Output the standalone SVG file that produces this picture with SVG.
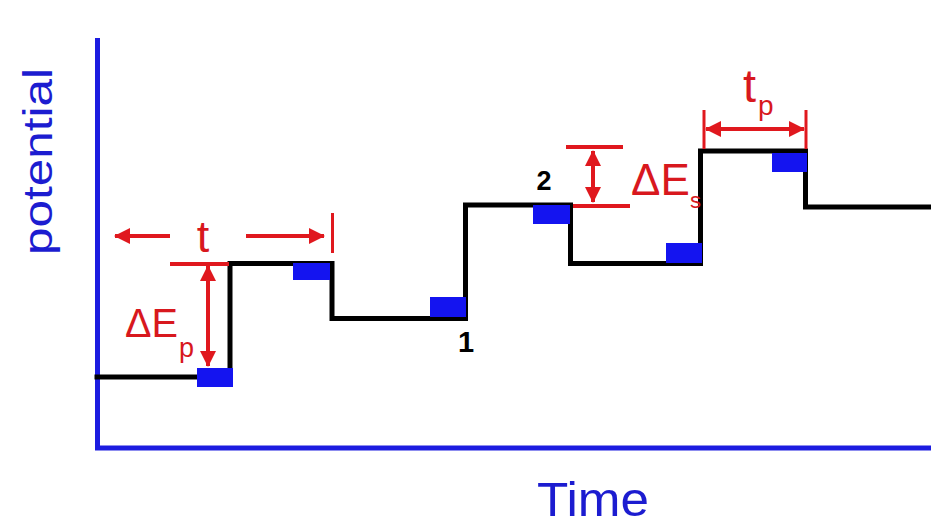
<svg xmlns="http://www.w3.org/2000/svg" width="931" height="528" viewBox="0 0 931 528">
<style>
.axis{stroke:#1c1ce0;stroke-width:5;fill:none}
.step{stroke:#000;stroke-width:5;fill:none;stroke-linejoin:miter;stroke-linecap:square}
.pulse{fill:#1414f0}
.red{stroke:#e0181e;stroke-width:4;fill:none}
.bar{stroke:#e0181e;stroke-width:3;fill:none}
.rtxt{fill:#d8181e;font-family:"Liberation Sans",Arial,sans-serif}
.btxt{fill:#1c1cd0;font-family:"Liberation Sans",Arial,sans-serif}
.num{fill:#000;font-family:"Liberation Sans",Arial,sans-serif;font-weight:bold;text-anchor:middle}
</style>
<defs>
<marker id="ah" viewBox="0 0 16 16" refX="15" refY="8" markerWidth="16" markerHeight="16" markerUnits="userSpaceOnUse" orient="auto-start-reverse">
<path d="M0,0 L16,8 L0,16 z" fill="#e0181e"/>
</marker>
</defs>
<rect width="931" height="528" fill="#fff"/>
<g id="axes">
<path class="axis" d="M97.5,38 V448 H931"/>
</g>
<g id="axis-labels">
<text class="btxt" font-size="41" transform="translate(52,255) rotate(-90)" textLength="187" lengthAdjust="spacingAndGlyphs">potential</text>
<text class="btxt" x="537" y="516" font-size="49" textLength="112" lengthAdjust="spacingAndGlyphs">Time</text>
</g>
<g id="waveform">
<path class="step" d="M97,377 H230 V263.5 H332 V318.5 H465.5 V205 H570.5 V263.5 H700.5 V151 H805.5 V207 H933"/>
</g>
<g id="pulses">
<rect class="pulse" x="197" y="368" width="36" height="19"/>
<rect class="pulse" x="293" y="263" width="37" height="17"/>
<rect class="pulse" x="430" y="297" width="36" height="20"/>
<rect class="pulse" x="533" y="205" width="37" height="19"/>
<rect class="pulse" x="666" y="243" width="36" height="20"/>
<rect class="pulse" x="772" y="153" width="35" height="19"/>
</g>
<g id="connectors">
<line class="red" x1="170" y1="236" x2="115" y2="236" marker-end="url(#ah)"/>
<line class="red" x1="246" y1="236" x2="324" y2="236" marker-end="url(#ah)"/>
<line class="bar" x1="332.5" y1="213" x2="332.5" y2="253"/>
<line class="red" x1="170" y1="264" x2="229" y2="264"/>
<line class="red" x1="208" y1="266" x2="208" y2="366" marker-start="url(#ah)" marker-end="url(#ah)"/>
<line class="red" x1="566" y1="147" x2="623" y2="147"/>
<line class="red" x1="573" y1="206" x2="630" y2="206"/>
<line class="red" x1="593" y1="151" x2="593" y2="202" marker-start="url(#ah)" marker-end="url(#ah)"/>
<line class="bar" x1="704" y1="110" x2="704" y2="149"/>
<line class="bar" x1="806" y1="110" x2="806" y2="149"/>
<line class="red" x1="706" y1="129" x2="804" y2="129" marker-start="url(#ah)" marker-end="url(#ah)"/>
</g>
<g id="label-t">
<text class="rtxt" x="203" y="252" font-size="45" text-anchor="middle">t</text>
</g>
<g id="label-dEp">
<text class="rtxt" x="125" y="337" font-size="40"><tspan textLength="53" lengthAdjust="spacingAndGlyphs">ΔE</tspan><tspan x="179" y="357" font-size="27">p</tspan></text>
</g>
<g id="label-dEs">
<text class="rtxt" x="631" y="195" font-size="44">ΔE<tspan x="690" y="208" font-size="22">s</tspan></text>
</g>
<g id="label-tp">
<text class="rtxt" x="743" y="102" font-size="47">t<tspan x="758" y="115" font-size="28">p</tspan></text>
</g>
<g id="label-1"><text class="num" x="466" y="352" font-size="29">1</text></g>
<g id="label-2"><text class="num" x="544" y="190" font-size="27">2</text></g>
</svg>
